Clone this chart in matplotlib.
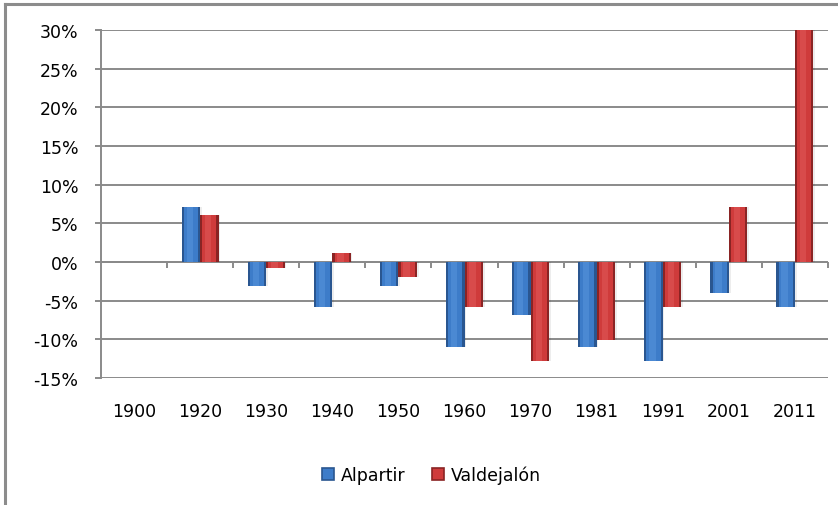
import matplotlib
matplotlib.use("Agg")
import matplotlib.pyplot as plt
import numpy as np
from matplotlib.patches import Patch
from matplotlib.lines import Line2D
from matplotlib.ticker import FuncFormatter, FixedLocator

years = ["1900", "1920", "1930", "1940", "1950", "1960", "1970", "1981", "1991", "2001", "2011"]
alpartir = [np.nan, 7.1, -3.1, -5.8, -3.1, -11.0, -6.8, -11.0, -12.8, -4.0, -5.8]
valdejalon = [np.nan, 6.1, -0.8, 1.1, -1.9, -5.8, -12.8, -10.1, -5.8, 7.1, 31.0]
series_names = ["Alpartir", "Valdejalón"]
yticks = [-15, -10, -5, 0, 5, 10, 15, 20, 25, 30]

blue = dict(dark="#2a5690", mid="#3d7cc9", light="#6ea9ec")
red = dict(dark="#8a2424", mid="#cf3b3b", light="#f07272")

fig = plt.figure(figsize=(8.38, 5.06), dpi=100)
ax = fig.add_axes([101/838, 1-379/506, (828-101)/838, (379-31)/506])

x = np.arange(len(years))
bw = 0.28
grid_c = "#8a8a8a"

for vals, off, col in [(alpartir, -bw/2, blue), (valdejalon, bw/2, red)]:
    v = np.array(vals)
    ax.bar(x + off + 0.025, v, bw, color="#000000", alpha=0.07, zorder=2, linewidth=0)
    ax.bar(x + off, v, bw, color=col["dark"], zorder=3, linewidth=0)
    ax.bar(x + off, v, bw*0.76, color=col["mid"], zorder=4, linewidth=0)
    ax.bar(x + off - bw*0.06, v, bw*0.34, color=col["light"], alpha=0.3, zorder=5, linewidth=0)

ax.set_xlim(-0.5, len(years) - 0.5)
ax.set_ylim(-15, 30)
ax.yaxis.set_major_locator(FixedLocator(yticks))
ax.yaxis.set_major_formatter(FuncFormatter(lambda v, p: f"{int(v)}%"))
ax.grid(axis="y", color=grid_c, linewidth=1.4, zorder=0)
ax.set_axisbelow(True)
for s in ["top", "right", "bottom"]:
    ax.spines[s].set_visible(False)
ax.spines["left"].set_color(grid_c)
ax.spines["left"].set_linewidth(1.4)
ax.tick_params(axis="y", length=4.3, color=grid_c, width=1.4, labelsize=12.5, pad=12)
ax.set_xticks(x)
ax.set_xticklabels(years)
ax.tick_params(axis="x", length=0, labelsize=12.5, pad=17)
ax.axhline(0, color=grid_c, linewidth=1.4, zorder=1)

sec = ax.secondary_xaxis(1/3)
sec.set_xticks(np.arange(len(years)) + 0.5)
sec.set_xticklabels([])
sec.tick_params(axis="x", length=4, color=grid_c, width=1.4, direction="out")
sec.spines["bottom"].set_visible(False)
sec.spines["top"].set_visible(False)

handles = [Patch(facecolor=blue["mid"], edgecolor=blue["dark"], linewidth=1.2),
           Patch(facecolor=red["mid"], edgecolor=red["dark"], linewidth=1.2)]
fig.legend(handles, series_names, loc="center", bbox_to_anchor=(0.515, 0.06), ncol=2,
           frameon=False, fontsize=12.5, handlelength=0.7, handleheight=0.7,
           handletextpad=0.4, columnspacing=1.5)

fig.add_artist(Line2D([5/838, 1], [1-5/506, 1-5/506], color="#8c8c8c", linewidth=2.2))
fig.add_artist(Line2D([5/838, 5/838], [0, 1-5/506], color="#8c8c8c", linewidth=2.2))

fig.savefig("out.png", dpi=100)
